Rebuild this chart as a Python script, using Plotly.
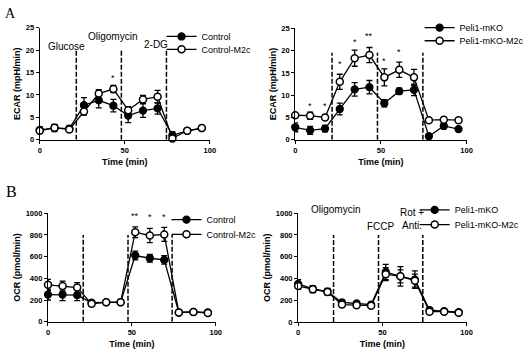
import plotly.graph_objects as go

time = [0, 8.7, 17.4, 26, 34.7, 43.3, 52, 60.7, 69.3, 78, 86.7, 95.3]

# Panel A left: ECAR
ecar_ctrl = [2.2, 2.6, 2.5, 7.7, 8.8, 7.6, 5.4, 6.5, 7.0, 1.0, 2.0, 2.6]
ecar_ctrl_err = [0.7, 0.8, 0.6, 1.7, 1.7, 1.4, 1.6, 1.5, 1.3, 0.8, 0.5, 0.5]
ecar_ctrl_m2c = [2.0, 2.7, 2.3, 6.3, 10.3, 11.3, 6.6, 9.0, 9.6, 0.3, 2.0, 2.6]
ecar_ctrl_m2c_err = [0.5, 0.6, 0.5, 0.8, 0.9, 0.8, 0.8, 0.9, 1.4, 0.5, 0.5, 0.5]

# Panel A right: ECAR
ecar_ko = [2.8, 2.1, 2.5, 6.9, 11.3, 11.8, 8.2, 10.9, 11.2, 0.8, 3.1, 2.4]
ecar_ko_err = [1.0, 0.9, 0.7, 1.3, 1.5, 1.5, 0.8, 0.7, 1.3, 0.5, 0.6, 0.3]
ecar_ko_m2c = [5.5, 5.4, 5.0, 13.0, 18.3, 19.0, 14.0, 15.7, 14.0, 4.4, 4.5, 4.4]
ecar_ko_m2c_err = [0.5, 0.8, 0.5, 1.7, 1.8, 1.7, 1.9, 1.7, 1.8, 0.4, 0.5, 0.4]

# Panel B left: OCR
ocr_ctrl = [250, 250, 245, 175, 180, 180, 610, 585, 570, 85, 90, 85]
ocr_ctrl_err = [50, 55, 50, 20, 15, 15, 40, 35, 40, 10, 10, 10]
ocr_ctrl_m2c = [340, 330, 315, 165, 180, 180, 825, 795, 805, 85, 90, 80]
ocr_ctrl_m2c_err = [50, 45, 45, 20, 15, 15, 50, 65, 65, 10, 10, 10]

# Panel B right: OCR
ocr_ko = [350, 305, 280, 180, 170, 160, 460, 420, 390, 110, 100, 90]
ocr_ko_err = [40, 30, 30, 20, 20, 20, 70, 90, 80, 20, 15, 10]
ocr_ko_m2c = [330, 300, 275, 160, 155, 150, 440, 420, 380, 95, 95, 85]
ocr_ko_m2c_err = [30, 30, 25, 20, 15, 15, 60, 60, 60, 15, 10, 10]

injections_ecar = [21.5, 48, 74.5]
injections_ocr = [21, 47.7, 74]

# significance marks: (time, y, text)
sig_a_left = [(43.3, 13.8, "*")]
sig_a_right = [(8.7, 7.5, "*"), (17.4, 7.5, "*"), (26, 17.0, "*"), (34.7, 21.9, "*"),
               (43.3, 23.2, "**"), (52, 17.7, "*"), (60.7, 19.7, "*")]
sig_b_left = [(52, 975, "**"), (60.7, 965, "*"), (69.3, 965, "*")]

W, H = 531, 354
FONT = "Liberation Sans"

def px(a, b):
    return [a / W, b / W]

def py(bottom, top):
    return [1 - bottom / H, 1 - top / H]

fig = go.Figure()

# (xaxis, yaxis, filled, filled_err, open, open_err, names, legend text-start px, row y px)
panels = [
    ("x", "y", ecar_ctrl, ecar_ctrl_err, ecar_ctrl_m2c, ecar_ctrl_m2c_err,
     ("Control", "Control-M2c"), 202, (33.3, 46.5)),
    ("x2", "y2", ecar_ko, ecar_ko_err, ecar_ko_m2c, ecar_ko_m2c_err,
     ("Peli1-mKO", "Peli1-mKO-M2c"), 464, (24.3, 37.7)),
    ("x3", "y3", ocr_ctrl, ocr_ctrl_err, ocr_ctrl_m2c, ocr_ctrl_m2c_err,
     ("Control", "Control-M2c"), 207, (221.3, 236.3)),
    ("x4", "y4", ocr_ko, ocr_ko_err, ocr_ko_m2c, ocr_ko_m2c_err,
     ("Peli1-mKO", "Peli1-mKO-M2c"), 459, (211.3, 226.3)),
]

legend_font = dict(family=FONT, size=9, color="black")
legend_layout = {}
k = 0
for xa, ya, f, fe, o, oe, names, tx, rows in panels:
    for vals, errs, fill, nm, ry, lw in [(f, fe, "black", names[0], rows[0], 1.3),
                                         (o, oe, "white", names[1], rows[1], 1.5)]:
        k += 1
        lg = "legend" if k == 1 else f"legend{k}"
        fig.add_trace(go.Scatter(
            x=time, y=vals, mode="lines+markers", name=nm, xaxis=xa, yaxis=ya, legend=lg,
            line=dict(color="black", width=1.3),
            marker=dict(symbol="circle", size=7, color=fill, line=dict(color="black", width=lw)),
            error_y=dict(type="data", array=errs, color="black", thickness=1.3, width=3),
            cliponaxis=False))
        legend_layout[lg] = dict(x=(tx - 40) / W, y=1 - ry / H, xanchor="left", yanchor="middle",
                                 font=legend_font, bgcolor="rgba(0,0,0,0)", borderwidth=0,
                                 itemwidth=30)

tickfont = dict(family=FONT, size=7.5, color="black", weight="bold")
titlefont = dict(family=FONT, size=9, color="black", weight="bold")

def xaxis_cfg(domain, anchor):
    return dict(domain=domain, anchor=anchor, range=[0, 100], tickvals=[0, 50, 100],
                showgrid=False, zeroline=False, showline=True, linecolor="black", linewidth=1.3,
                ticks="outside", ticklen=3, tickwidth=1.3, tickcolor="black",
                tickfont=tickfont, title=dict(text="Time (min)", font=titlefont, standoff=4))

def yaxis_cfg(domain, anchor, rng, dtick, title):
    return dict(domain=domain, anchor=anchor, range=rng, dtick=dtick,
                showgrid=False, zeroline=False, showline=True, linecolor="black", linewidth=1.3,
                ticks="outside", ticklen=3, tickwidth=1.3, tickcolor="black",
                tickfont=tickfont, title=dict(text=title, font=titlefont, standoff=3))

fig.update_layout(
    width=W, height=H, margin=dict(l=0, r=0, t=0, b=0),
    paper_bgcolor="white", plot_bgcolor="white",
    xaxis=xaxis_cfg(px(38.3, 211), "y"),
    yaxis=yaxis_cfg(py(139.3, 24.3), "x", [0, 25], 5, "ECAR (mpH/min)"),
    xaxis2=xaxis_cfg(px(297.7, 471.7), "y2"),
    yaxis2=yaxis_cfg(py(139.3, 25), "x2", [0, 25], 5, "ECAR (mpH/min)"),
    xaxis3=xaxis_cfg(px(46.7, 217), "y3"),
    yaxis3=yaxis_cfg(py(326, 214.7), "x3", [0, 1000], 200, "OCR (pmol/min)"),
    xaxis4=xaxis_cfg(px(300.7, 471.7), "y4"),
    yaxis4=yaxis_cfg(py(326.3, 214.7), "x4", [0, 1000], 200, "OCR (pmol/min)"),
    showlegend=True,
)
fig.update_layout(legend_layout)

# injection lines
shape_specs = [("x", "y", injections_ecar, 20), ("x2", "y2", injections_ecar, 19.5),
               ("x3", "y3", injections_ocr, 800), ("x4", "y4", injections_ocr, 800)]
for xa, ya, inj, top in shape_specs:
    for t in inj:
        fig.add_shape(type="line", xref=xa, yref=ya, x0=t, x1=t, y0=0, y1=top,
                      line=dict(color="black", width=1.5, dash="5px,2px"))

ann = []
for xa, ya, sigs in [("x", "y", sig_a_left), ("x2", "y2", sig_a_right), ("x3", "y3", sig_b_left)]:
    for t, yv, txt in sigs:
        ann.append(dict(x=t, y=yv, xref=xa, yref=ya, text=txt, showarrow=False,
                        font=dict(family=FONT, size=9, color="black")))

label_font = dict(family=FONT, size=10, color="black")
ann += [
    dict(x=15.5, y=20.7, xref="x", yref="y", text="Glucose", showarrow=False, font=label_font),
    dict(x=42.7, y=23.0, xref="x", yref="y", text="Oligomycin", showarrow=False, font=label_font),
    dict(x=68.2, y=21.2, xref="x", yref="y", text="2-DG", showarrow=False, font=label_font),
    dict(x=22.4, y=1.105, xref="x4", yref="y4 domain", text="Oligomycin", showarrow=False,
         font=label_font),
    dict(x=49.3, y=875, xref="x4", yref="y4", text="FCCP", showarrow=False, font=label_font),
    dict(x=67.8, y=945, xref="x4", yref="y4", text="Rot +<br>Anti.", showarrow=False,
         font=label_font, align="center"),
    dict(x=1 / W, y=1, xref="paper", yref="paper", text="A", showarrow=False,
         xanchor="left", yanchor="top", font=dict(family="Liberation Serif", size=14, color="black")),
    dict(x=2 / W, y=1 - 192 / H, xref="paper", yref="paper", text="B", showarrow=False,
         xanchor="left", yanchor="middle", font=dict(family="Liberation Serif", size=16, color="black")),
]
fig.update_layout(annotations=ann)

fig.write_html("out.html")
